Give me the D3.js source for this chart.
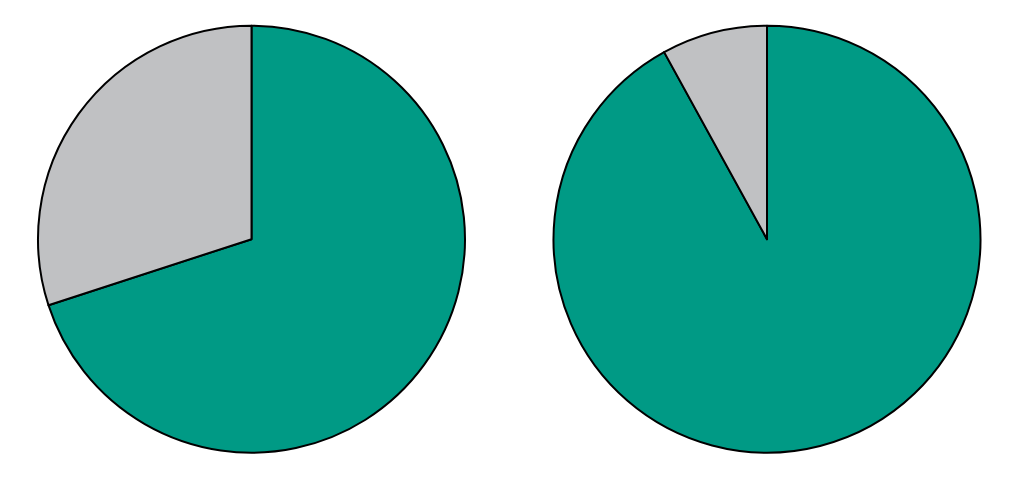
<!DOCTYPE html>
<html>
<head>
<meta charset="utf-8">
<script src="https://cdn.jsdelivr.net/npm/d3@7"></script>
<style>
  html, body { margin: 0; padding: 0; background: #fff; }
</style>
</head>
<body>
<svg id="pies" width="1023" height="491"></svg>
<script>
// share values
const categories = ["main", "other"];
const leftValues = [70, 30];
const rightValues = [92, 8];
const colors = ["#009a85", "#c0c1c3"];

const svg = d3.select("#pies");
const radius = 213.5;

const pie = d3.pie().sort(null).value((d) => d);
const arc = d3.arc().innerRadius(0).outerRadius(radius);
const color = d3.scaleOrdinal().domain(d3.range(categories.length)).range(colors);

function drawPie(values, cx, cy) {
  const g = svg.append("g").attr("transform", `translate(${cx},${cy})`);
  g.selectAll("path")
    .data(pie(values))
    .enter()
    .append("path")
    .attr("d", arc)
    .attr("fill", (d, i) => color(i))
    .attr("stroke", "#000")
    .attr("stroke-width", 2)
    .attr("stroke-linejoin", "round");
}

drawPie(leftValues, 251.5, 239.2);
drawPie(rightValues, 767, 239.2);
</script>
</body>
</html>
